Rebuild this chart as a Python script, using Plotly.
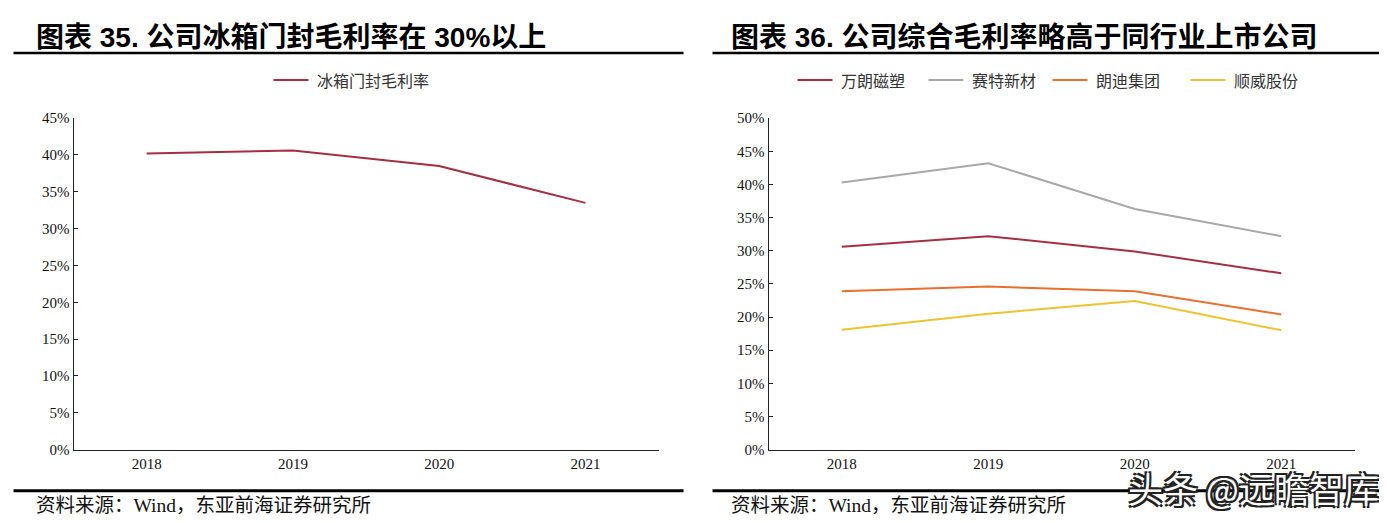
import plotly.graph_objects as go

years = ["2018", "2019", "2020", "2021"]

# left chart: 冰箱门封毛利率 (%)
seal_margin = [40.2, 40.6, 38.5, 33.5]

# right chart: 综合毛利率 (%)
peer_names = ["万朗磁塑", "赛特新材", "朗迪集团", "顺威股份"]
wanlang = [30.6, 32.2, 29.9, 26.6]
saite = [40.3, 43.2, 36.3, 32.2]
langdi = [23.9, 24.6, 23.9, 20.4]
shunwei = [18.1, 20.5, 22.4, 18.0]
peer_colors = ["#A52F42", "#A8A8A8", "#E8702E", "#EEC233"]

left_ticks = [0, 5, 10, 15, 20, 25, 30, 35, 40, 45]
right_ticks = [0, 5, 10, 15, 20, 25, 30, 35, 40, 45, 50]

serif = "Liberation Serif, Noto Sans CJK SC, serif"
cjk = "Noto Sans CJK SC, Liberation Serif, serif"

W, H = 1387, 523


# positions are given in screenshot pixels; correct for the page offset
def px(x):
    return (x - 7.5) / W


def py(y):
    return 1 - ((y - 16) / 0.968) / H


fig = go.Figure()

fig.add_trace(go.Scatter(
    x=years, y=seal_margin, mode="lines", name="冰箱门封毛利率",
    line=dict(color=peer_colors[0], width=2), xaxis="x", yaxis="y",
))

for name, vals, col in zip(peer_names, [wanlang, saite, langdi, shunwei], peer_colors):
    fig.add_trace(go.Scatter(
        x=years, y=vals, mode="lines", name=name,
        line=dict(color=col, width=2), xaxis="x2", yaxis="y2",
    ))

axis_common = dict(
    showline=True, linecolor="#222222", linewidth=1, showgrid=False,
    zeroline=False, tickfont=dict(family=serif, size=15, color="#111111"),
)

fig.update_layout(
    width=W, height=H,
    margin=dict(l=0, r=0, t=0, b=0),
    paper_bgcolor="white", plot_bgcolor="white",
    showlegend=False,
    xaxis=dict(domain=[px(73), px(658)], type="category", range=[-0.5, 3.5],
               ticks="", anchor="y", **axis_common),
    yaxis=dict(domain=[py(449), py(118)], range=[0, 45], tickvals=left_ticks,
               ticktext=[f"{v}%" for v in left_ticks], ticks="inside", ticklen=4,
               tickcolor="#222222", anchor="x", **axis_common),
    xaxis2=dict(domain=[px(768), px(1354)], type="category", range=[-0.5, 3.5],
                ticks="", anchor="y2", **axis_common),
    yaxis2=dict(domain=[py(449), py(118)], range=[0, 50], tickvals=right_ticks,
                ticktext=[f"{v}%" for v in right_ticks], ticks="inside", ticklen=4,
                tickcolor="#222222", anchor="x2", **axis_common),
)

shapes = []
annotations = []

# titles with underline, footer line and source text
panels = [
    ("图表 35. 公司冰箱门封毛利率在 30%以上", 33, 13, 683),
    ("图表 36. 公司综合毛利率略高于同行业上市公司", 728, 712, 1386),
]
for text, tx, x0, x1 in panels:
    annotations.append(dict(
        text=f"<b>{text}</b>", x=px(tx), y=py(37), xref="paper", yref="paper",
        xanchor="left", yanchor="middle", showarrow=False,
        font=dict(family="Liberation Sans, Noto Sans CJK SC", size=28, color="#000000"),
    ))
    shapes.append(dict(type="line", xref="paper", yref="paper",
                       x0=px(x0), x1=px(x1), y0=py(53), y1=py(53),
                       line=dict(color="#000000", width=2.5)))
    shapes.append(dict(type="line", xref="paper", yref="paper",
                       x0=px(x0), x1=px(x1), y0=py(490), y1=py(490),
                       line=dict(color="#000000", width=3)))
    annotations.append(dict(
        text="资料来源：Wind，东亚前海证券研究所", x=px(tx), y=py(505),
        xref="paper", yref="paper", xanchor="left", yanchor="middle", showarrow=False,
        font=dict(family=serif, size=19.5, color="#111111"),
    ))

# legends drawn by hand so each panel gets its own row
legend_items = [
    ("冰箱门封毛利率", peer_colors[0], 273),
    (peer_names[0], peer_colors[0], 797),
    (peer_names[1], peer_colors[1], 928),
    (peer_names[2], peer_colors[2], 1052),
    (peer_names[3], peer_colors[3], 1190),
]
for label, col, lx in legend_items:
    shapes.append(dict(type="line", xref="paper", yref="paper",
                       x0=px(lx), x1=px(lx + 35), y0=py(80), y1=py(80),
                       line=dict(color=col, width=2)))
    annotations.append(dict(
        text=label, x=px(lx + 41), y=py(80), xref="paper", yref="paper",
        xanchor="left", yanchor="middle", showarrow=False,
        font=dict(family=cjk, size=16, color="#333333"),
    ))

# watermark
annotations.append(dict(
    text="头条 @远瞻智库", x=px(1380), y=py(487), xref="paper", yref="paper",
    xanchor="right", yanchor="middle", showarrow=False,
    font=dict(family="Noto Sans CJK SC", size=35, color="white",
              shadow="2px 2px 0 #222, -2px -2px 0 #222, 2px -2px 0 #222, -2px 2px 0 #222"),
))

fig.update_layout(shapes=shapes, annotations=annotations)

fig.write_html("out.html")
